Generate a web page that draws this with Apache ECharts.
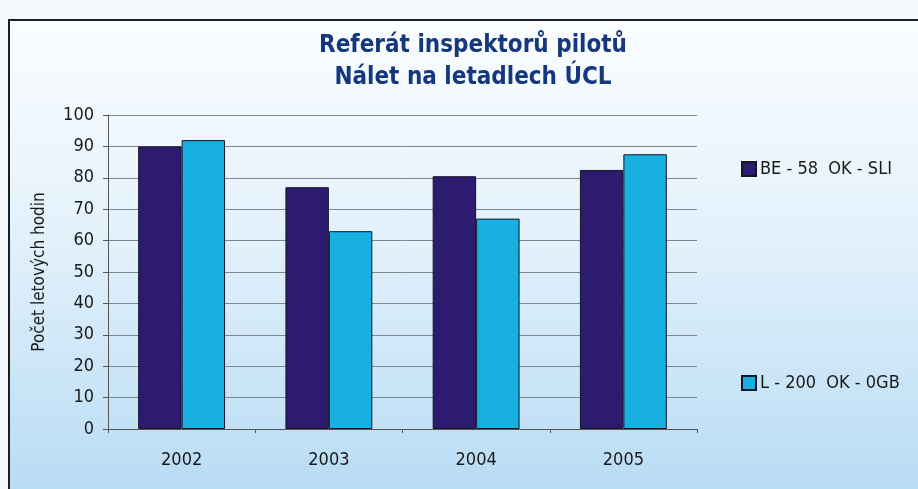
<!DOCTYPE html>
<html>
<head>
<meta charset="utf-8">
<script src="https://cdn.jsdelivr.net/npm/echarts@6/dist/echarts.min.js"></script>
<style>
  html, body { margin: 0; padding: 0; background: #f3f8fc; }
  #chart { width: 918px; height: 489px; }
</style>
</head>
<body>
<div id="chart"></div>
<script>
// data
const years = ['2002', '2003', '2004', '2005'];
const seriesNames = ['BE - 58  OK - SLI', 'L - 200  OK - 0GB'];
const beValues = [90, 77, 80.5, 82.5];
const lValues = [92, 63, 67, 87.5];
const yTicks = [0, 10, 20, 30, 40, 50, 60, 70, 80, 90, 100];

const font = '"Liberation Sans Narrow", "DejaVu Sans Condensed", "Roboto Condensed", sans-serif';

let myChart = echarts.init(document.getElementById('chart'));
myChart.setOption({
  animation: false,
  backgroundColor: '#f3f8fc',
  graphic: [
    {
      type: 'rect',
      z: -10,
      shape: { x: 9, y: 20, width: 920, height: 480 },
      style: {
        fill: new echarts.graphic.LinearGradient(0, 0, 0, 1, [
          { offset: 0, color: '#fbfdff' },
          { offset: 0.45, color: '#e3f1fb' },
          { offset: 1, color: '#b6dbf4' }
        ]),
        stroke: '#1e1e1e',
        lineWidth: 2
      }
    }
  ],
  title: {
    text: 'Referát inspektorů pilotů\nNálet na letadlech ÚCL',
    left: 468,
    textAlign: 'center',
    top: 25,
    textStyle: {
      fontFamily: font,
      fontSize: 24,
      fontWeight: 'bold',
      color: '#15377d',
      lineHeight: 32
    }
  },
  legend: {
    orient: 'vertical',
    left: 736,
    top: 155,
    itemWidth: 14,
    itemHeight: 14,
    itemGap: 196,
    icon: 'rect',
    textStyle: { fontFamily: font, fontSize: 18, color: '#1a1a1a', padding: [0, 0, 0, -1] },
    data: seriesNames
  },
  grid: { left: 108, right: 221, top: 115, bottom: 60 },
  xAxis: {
    type: 'category',
    data: years,
    axisLine: { lineStyle: { color: '#555', width: 1 } },
    axisTick: { show: true, length: 4, lineStyle: { color: '#555' } },
    axisLabel: { fontFamily: font, fontSize: 18, color: '#1a1a1a', margin: 22 }
  },
  yAxis: {
    type: 'value',
    min: 0,
    max: 100,
    interval: 10,
    name: 'Počet letových hodin',
    nameLocation: 'middle',
    nameGap: 60,
    nameTextStyle: { fontFamily: font, fontSize: 17, color: '#1a1a1a' },
    axisLine: { show: true, lineStyle: { color: '#555', width: 1 } },
    axisTick: { show: true, length: 5, lineStyle: { color: '#555' } },
    axisLabel: {
      fontFamily: font, fontSize: 18, color: '#1a1a1a', margin: 14,
      formatter: function (v) { return yTicks.indexOf(v) >= 0 ? String(v) : ''; }
    },
    splitLine: { lineStyle: { color: '#7d8790', width: 1 } }
  },
  series: [
    {
      name: seriesNames[0],
      type: 'bar',
      data: beValues,
      barGap: '0%',
      barCategoryGap: '41%',
      itemStyle: { color: '#2c1b6f', borderColor: '#141428', borderWidth: 1 }
    },
    {
      name: seriesNames[1],
      type: 'bar',
      data: lValues,
      itemStyle: { color: '#18b0e0', borderColor: '#141428', borderWidth: 1 }
    }
  ]
});
</script>
</body>
</html>
